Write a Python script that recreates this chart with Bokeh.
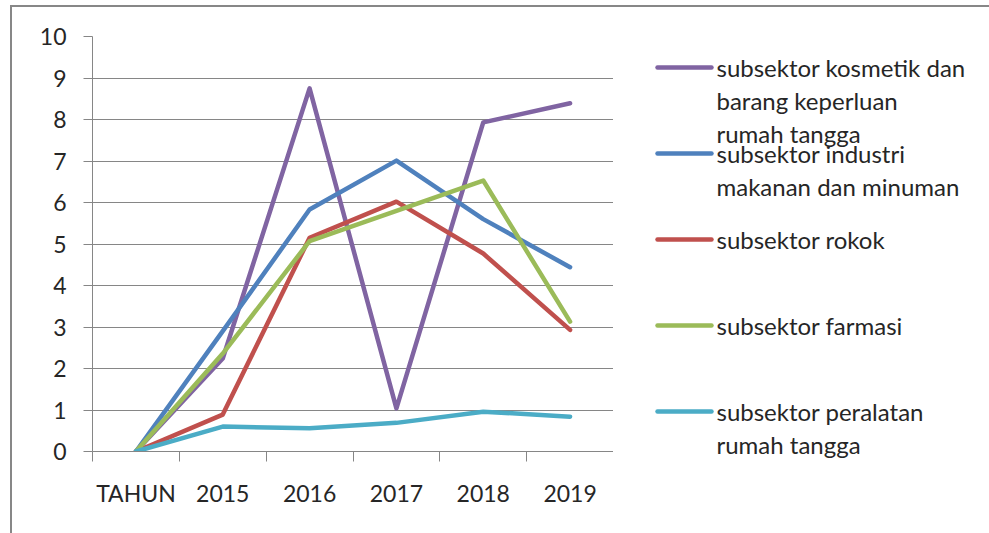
from bokeh.plotting import figure
from bokeh.layouts import row
from bokeh.models import Range1d, FixedTicker
from bokeh.core.properties import value
from bokeh.embed import file_html
from bokeh.resources import INLINE

# ---- data ----
categories = ["TAHUN", "2015", "2016", "2017", "2018", "2019"]
kosmetik = [0, 2.24, 8.75, 1.04, 7.93, 8.39]
makanan = [0, 2.90, 5.83, 7.01, 5.60, 4.44]
rokok = [0, 0.89, 5.15, 6.02, 4.77, 2.93]
farmasi = [0, 2.36, 5.07, 5.80, 6.53, 3.13]
peralatan = [0, 0.60, 0.56, 0.69, 0.96, 0.84]
y_ticks = list(range(0, 11))
series_labels = [
    "subsektor kosmetik dan\nbarang keperluan\nrumah tangga",
    "subsektor industri\nmakanan dan minuman",
    "subsektor rokok",
    "subsektor farmasi",
    "subsektor peralatan\nrumah tangga",
]
series_values = [kosmetik, makanan, rokok, farmasi, peralatan]

# ---- styles ----
colors = ["#8064A2", "#4F81BD", "#C0504D", "#9BBB59", "#4BACC6"]
FONT = "Lato"
TXT = "#262626"
GRID = "#868686"
BORDER = "2px solid #878787"

x_centers = [i + 0.5 for i in range(len(categories))]
x_bounds = list(range(len(categories) + 1))

H = 526
p = figure(width=601, height=H, output_backend="svg", toolbar_location=None,
           x_range=Range1d(0, len(categories)), y_range=Range1d(0, 10),
           min_border_left=80, min_border_right=0, min_border_top=29, min_border_bottom=82)
p.outline_line_color = None
p.frame_align = False

for vals, c in zip(series_values, colors):
    p.line(x_centers, vals, line_color=c, line_width=4.5, line_cap="round", line_join="round")

# x axis
p.xaxis.ticker = FixedTicker(ticks=x_centers, minor_ticks=x_bounds)
p.xaxis.major_label_overrides = {x: c for x, c in zip(x_centers, categories)}
p.xaxis.axis_line_color = GRID
p.xaxis.major_tick_out = 0
p.xaxis.major_tick_in = 0
p.xaxis.minor_tick_out = 10
p.xaxis.minor_tick_in = 0
p.xaxis.minor_tick_line_color = GRID
p.xaxis.major_label_standoff = 17
p.xaxis.major_label_text_font = FONT
p.xaxis.major_label_text_font_size = "23px"
p.xaxis.major_label_text_color = TXT

# y axis
p.yaxis.ticker = FixedTicker(ticks=y_ticks)
p.yaxis.axis_line_color = GRID
p.yaxis.major_tick_out = 9
p.yaxis.major_tick_in = 0
p.yaxis.minor_tick_line_color = None
p.yaxis.major_tick_line_color = GRID
p.yaxis.major_label_standoff = 17
p.yaxis.major_label_text_font = FONT
p.yaxis.major_label_text_font_size = "23px"
p.yaxis.major_label_text_color = TXT

p.xgrid.grid_line_color = None
p.ygrid.grid_line_color = GRID
p.ygrid.ticker = FixedTicker(ticks=y_ticks)

# ---- legend panel (pixel coordinates, y downwards) ----
LW = 376
lg = figure(width=LW, height=H, output_backend="svg", toolbar_location=None,
            x_range=Range1d(0, LW), y_range=Range1d(H, 0),
            min_border=0, x_axis_location=None, y_axis_location=None)
lg.outline_line_color = None
lg.xgrid.grid_line_color = None
lg.ygrid.grid_line_color = None
lg.frame_align = False

slot0, slot_step, line_step = 60, 86, 33
sw_x0, sw_x1, txt_x = 44, 98, 103
seg_y, tx, ty, tt = [], [], [], []
for i, lab in enumerate(series_labels):
    yc = slot0 + i * slot_step
    seg_y.append(yc)
    for k, part in enumerate(lab.split("\n")):
        tx.append(txt_x)
        ty.append(yc + k * line_step)
        tt.append(part)
lg.segment(x0=[sw_x0] * len(seg_y), y0=seg_y, x1=[sw_x1] * len(seg_y), y1=seg_y,
           line_color=colors, line_width=4.5, line_cap="round")
lg.text(x=tx, y=ty, text=tt, text_font=value(FONT), text_font_size="24px",
        text_color=TXT, text_baseline="middle", text_align="left")

layout = row(p, lg, margin=(5, 0, 0, 10),
             styles={"border-top": BORDER, "border-left": BORDER})

open("out.html", "w").write(file_html(layout, INLINE))
